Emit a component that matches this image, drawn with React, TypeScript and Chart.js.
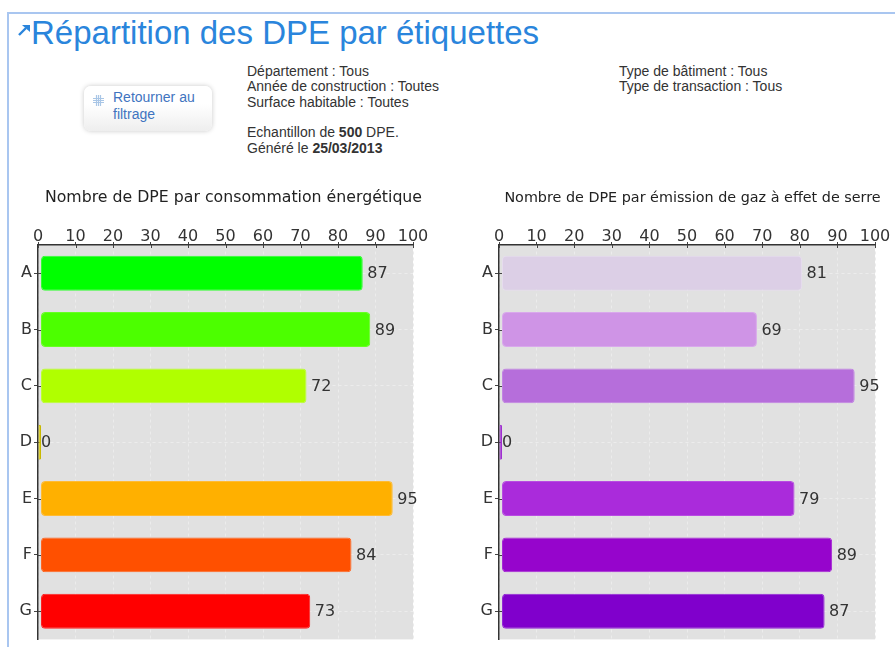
import React, { useEffect, useRef } from "react";
import { Chart, registerables } from "chart.js";

Chart.register(...registerables);

const categories = ["A", "B", "C", "D", "E", "F", "G"];
const consoValues = [87, 89, 72, 0, 95, 84, 73];
const gesValues = [81, 69, 95, 0, 79, 89, 87];
const consoColors = ["#00ff00", "#4cff00", "#b0ff00", "#e8d800", "#ffb000", "#ff5000", "#ff0000"];
const gesColors = ["#dccfe6", "#cf94e6", "#b66edb", "#a030d0", "#aa2bdb", "#9605cc", "#8000cc"];
const consoBorders = ["#33ff33", "#66ff22", "#bbff33", "#c8b800", "#ffbb33", "#ff6622", "#ff2222"];
const gesBorders = ["#e6dcee", "#d9a8ec", "#c283e4", "#a030d0", "#b84be2", "#a626d6", "#9326d6"];
const xTicks = [0, 10, 20, 30, 40, 50, 60, 70, 80, 90, 100];
const BAR_START = 0.8;
const BAR_END_INSET = 0.4;
const EMPTY_BAR = 0.8;

const FONT = "'DejaVu Sans'";

function makeConfig(title: string, titleSize: number, values: number[], colors: string[], borders: string[], yWidth: number, rightGap: number): any {
  const plugins = [
    {
      id: "plotBg",
      beforeDraw(chart: any) {
        const { ctx, chartArea: a } = chart;
        ctx.save();
        ctx.fillStyle = "#e1e1e1";
        ctx.fillRect(a.left, a.top, a.width, a.height);
        ctx.restore();
      },
    },
    {
      id: "innerTicks",
      beforeDatasetsDraw(chart: any) {
        const { ctx, chartArea: a, scales } = chart;
        ctx.save();
        ctx.strokeStyle = "#444444";
        ctx.lineWidth = 1;
        ctx.beginPath();
        xTicks.forEach((v) => {
          const x = Math.round(scales.x.getPixelForValue(v)) + 0.5;
          ctx.moveTo(x, a.top);
          ctx.lineTo(x, a.top + 3);
        });
        categories.forEach((_, i) => {
          const y = Math.round(scales.y.getPixelForValue(i)) + 0.5;
          ctx.moveTo(a.left, y);
          ctx.lineTo(a.left + 3, y);
        });
        ctx.stroke();
        ctx.restore();
      },
    },
    {
      id: "barValues",
      afterDatasetsDraw(chart: any) {
        const { ctx } = chart;
        const meta = chart.getDatasetMeta(0);
        ctx.save();
        ctx.font = `16px ${FONT}`;
        ctx.fillStyle = "#333333";
        ctx.textBaseline = "middle";
        ctx.textAlign = "left";
        meta.data.forEach((bar: any, i: number) => {
          ctx.fillText(String(values[i]), bar.x + (values[i] === 0 ? 0 : 4.5), bar.y + 1);
        });
        ctx.restore();
      },
    },
  ];
  return {
    type: "bar",
    data: {
      labels: categories,
      datasets: [
        {
          data: values.map((v) => (v === 0 ? [0, EMPTY_BAR] : [BAR_START, v - BAR_END_INSET])),
          backgroundColor: colors,
          borderColor: borders,
          borderWidth: 1,
          borderRadius: 4,
          borderSkipped: false,
          barPercentage: 0.62,
          categoryPercentage: 1,
        },
      ],
    },
    plugins,
    options: {
      indexAxis: "y",
      responsive: false,
      animation: false,
      layout: { autoPadding: false, padding: { left: 0, right: 0, top: 0, bottom: 1.9 } },
      plugins: {
        legend: { display: false },
        tooltip: { enabled: false },
        title: {
          display: true,
          text: title,
          color: "#222222",
          font: { family: FONT, size: titleSize, weight: "normal", lineHeight: 1.2 },
          padding: { top: 18 - (titleSize * 1.2) / 2, bottom: 48 - (18 + (titleSize * 1.2) / 2) },
        },
      },
      scales: {
        x: {
          position: "top",
          min: 0,
          max: 100,
          afterBuildTicks(s: any) {
            s.ticks = xTicks.map((value) => ({ value }));
          },
          afterFit(s: any) {
            s.height = 17;
          },
          ticks: { color: "#333333", font: { family: FONT, size: 16 }, padding: -4.5, maxRotation: 0, autoSkip: false },
          grid: { color: "#ececec", tickColor: "#444444", tickLength: 3, lineWidth: 1 },
          border: { display: true, color: "#333333", width: 1.5, dash: [3, 3] },
        },
        y: {
          afterFit(s: any) {
            s.width = yWidth;
          },
          ticks: { color: "#333333", font: { family: FONT, size: 16 }, padding: 2 },
          grid: { offset: false, color: "#ececec", tickColor: "#444444", tickLength: 4, lineWidth: 1 },
          border: { display: true, color: "#333333", width: 1.5, dash: [3, 3] },
        },
        gap: {
          type: "linear",
          axis: "y",
          position: "right",
          afterFit(s: any) {
            s.width = rightGap;
          },
          ticks: { display: false },
          grid: { display: false, drawTicks: false },
          border: { display: false },
        },
      },
    },
  };
}

function BarChart(props: { left: number; width: number; config: () => any }) {
  const ref = useRef<HTMLCanvasElement>(null);
  useEffect(() => {
    const chart = new Chart(ref.current!, props.config());
    return () => chart.destroy();
  }, []);
  return (
    <canvas
      ref={ref}
      width={props.width}
      height={471}
      style={{ position: "absolute", left: props.left, top: 180, width: props.width, height: 471 }}
    />
  );
}

const infoStyle: React.CSSProperties = {
  position: "absolute",
  fontFamily: "'Liberation Sans', Arial, sans-serif",
  fontSize: 14,
  lineHeight: "15.5px",
  color: "#333333",
  whiteSpace: "pre",
};

export default function App() {
  return (
    <div style={{ position: "fixed", left: 0, top: 0, width: 895, height: 647, overflow: "hidden", background: "#fff", filter: "blur(0.35px)" }}>
      <div style={{ position: "absolute", left: 7, top: 12, width: 888, height: 2, background: "#a9c6f0" }} />
      <div style={{ position: "absolute", left: 7, top: 12, width: 2, height: 635, background: "#a9c6f0" }} />
      <svg style={{ position: "absolute", left: 18, top: 24 }} width="13" height="12" viewBox="0 0 13 12">
        <path d="M1 11 L8 4" stroke="#2a85dc" strokeWidth="2.4" fill="none" />
        <path d="M4 1 H12 V8 Z" fill="#2a85dc" />
      </svg>
      <div
        style={{
          position: "absolute",
          left: 31,
          top: 14,
          fontFamily: "'Liberation Sans', Arial, sans-serif",
          fontSize: 33,
          lineHeight: "38px",
          color: "#2a85dc",
          whiteSpace: "pre",
        }}
      >
        Répartition des DPE par étiquettes
      </div>
      <div
        style={{
          position: "absolute",
          left: 84,
          top: 86,
          width: 128,
          height: 45,
          borderRadius: 7,
          background: "linear-gradient(#ffffff 40%, #eeeeee)",
          boxShadow: "0 0 5px rgba(0,0,0,0.22)",
        }}
      />
      <svg style={{ position: "absolute", left: 92, top: 94 }} width="13" height="13" viewBox="0 0 13 13">
        <path d="M1 4.5H12M1 6.5H12M1 8.5H12M4.5 1V12M6.5 1V12M8.5 1V12" stroke="#a9c6e6" strokeWidth="1.2" fill="none" />
      </svg>
      <div style={{ ...infoStyle, left: 113, top: 89, lineHeight: "17px", color: "#3f74c0" }}>{"Retourner au\nfiltrage"}</div>
      <div style={{ ...infoStyle, left: 247, top: 63.5 }}>{"Département : Tous\nAnnée de construction : Toutes\nSurface habitable : Toutes"}</div>
      <div style={{ ...infoStyle, left: 247, top: 125 }}>
        {"Echantillon de "}<b>500</b>{" DPE.\nGénéré le "}<b>25/03/2013</b>
      </div>
      <div style={{ ...infoStyle, left: 619, top: 63.5 }}>{"Type de bâtiment : Tous\nType de transaction : Tous"}</div>
      <BarChart
        left={0}
        width={467}
        config={() => makeConfig("Nombre de DPE par consommation énergétique", 15.75, consoValues, consoColors, consoBorders, 38, 54)}
      />
      <BarChart
        left={475}
        width={435}
        config={() => makeConfig("Nombre de DPE par émission de gaz à effet de serre", 14.35, gesValues, gesColors, gesBorders, 24, 35)}
      />
    </div>
  );
}
